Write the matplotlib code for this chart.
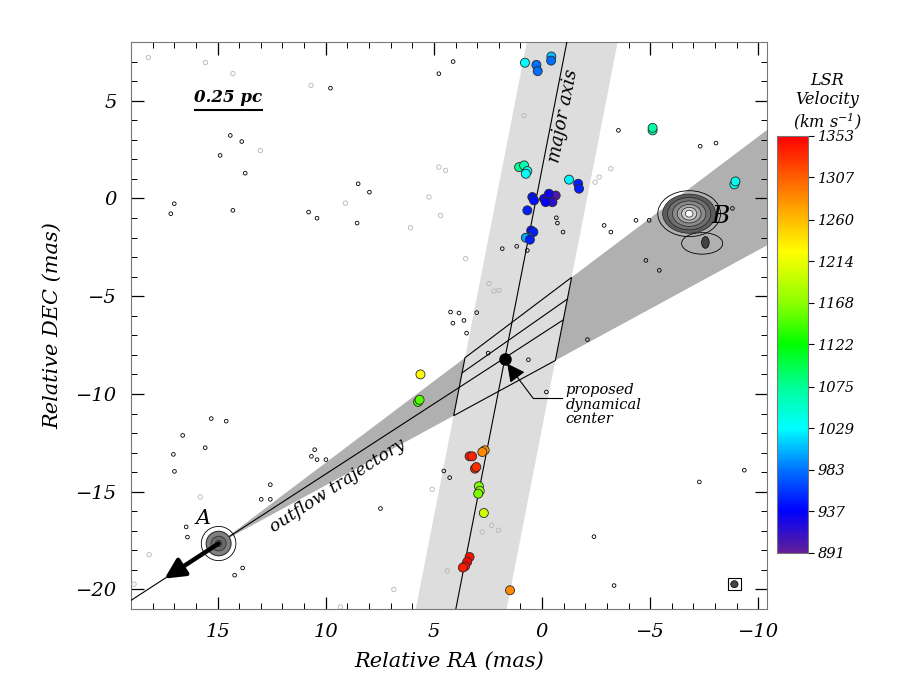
import matplotlib
matplotlib.use("Agg")
import matplotlib.pyplot as plt
import numpy as np
from matplotlib.cm import ScalarMappable
from matplotlib.colors import LinearSegmentedColormap, Normalize
from matplotlib.patches import Ellipse, Polygon, Rectangle
from matplotlib.ticker import MultipleLocator

plt.rcParams["font.family"] = "DejaVu Serif"
plt.rcParams["font.style"] = "italic"
plt.rcParams["mathtext.fontset"] = "dejavuserif"

# --- water maser spots: RA / DEC offsets (mas) and LSR velocity (km/s)
maser_ra = [0.79, 0.26, 0.20, -0.43, -0.42,
            1.06, 0.83, 0.68, 0.75, -1.25, -1.67, -1.71,
            -0.25, -0.09, -0.40, -0.63, -0.48, -0.17, -0.32, 0.45, 0.37, 0.68,
            0.50, 0.40, 0.60, 0.75, 0.56,
            -5.11, -5.11, -8.89, -8.94,
            5.62, 5.73, 5.66,
            2.65, 2.76, 3.35, 3.23, 3.10, 3.04, 2.92, 2.88, 2.95, 2.69,
            3.35, 3.46, 3.56, 3.66, 1.48]
maser_dec = [6.94, 6.83, 6.51, 7.26, 7.05,
             1.60, 1.69, 1.40, 1.26, 0.96, 0.75, 0.50,
             0.07, -0.02, -0.07, 0.15, -0.19, -0.19, 0.24, 0.07, -0.10, -0.61,
             -1.64, -1.72, -1.98, -2.01, -2.11,
             3.48, 3.61, 0.72, 0.87,
             -9.00, -10.41, -10.30,
             -12.88, -12.97, -13.19, -13.19, -13.82, -13.74, -14.72, -14.96, -15.10, -16.09,
             -18.34, -18.59, -18.81, -18.88, -20.04]
maser_vel = [1029, 983, 983, 1010, 983,
             1080, 1065, 1040, 1030, 1025, 950, 950,
             925, 930, 920, 900, 915, 935, 930, 945, 945, 950,
             945, 950, 965, 1000, 950,
             1060, 1070, 1035, 1040,
             1225, 1140, 1150,
             1280, 1285, 1340, 1335, 1335, 1330, 1165, 1180, 1160, 1200,
             1345, 1350, 1345, 1340, 1285]

vel_ticks = [891, 937, 983, 1029, 1075, 1122, 1168, 1214, 1260, 1307, 1353]

# weak continuum / noise contours
noise_ra = [14.41, 13.88, 14.88, 13.72, 17.00, 17.16, 14.29, 10.79, 10.40, 8.50,
            7.98, 8.55, 9.78, 4.77, 4.11, -3.53, -7.31, -8.04, -0.66, -0.71,
            -0.97, -2.87, -3.18, -4.34, -4.95, -8.80, 1.84, 1.17, 0.68, -4.80,
            -5.42, 15.29, 14.60, 16.61, 15.57, 17.04, 16.99, 12.56, 12.98, 12.56,
            10.51, 10.66, 10.40, 9.99, 4.54, 4.27, 7.47, 16.45, 16.39, 13.84,
            14.21, 4.23, 3.84, 3.61, 4.12, 3.02, 3.49, 2.49, 0.63, -0.20,
            -2.10, -2.40, -3.33, -7.27, -9.35]
noise_dec = [3.22, 2.91, 2.20, 1.29, -0.27, -0.78, -0.61, -0.70, -1.01, 0.75,
             0.32, -1.26, 5.64, 6.38, 7.00, 3.48, 2.67, 2.83, -0.99, -1.26,
             -1.72, -1.38, -1.72, -1.12, -1.12, -0.51, -2.57, -2.45, -2.66, -3.17,
             -3.68, -11.26, -11.39, -12.12, -12.75, -13.09, -13.96, -14.64, -15.39, -15.39,
             -12.85, -13.19, -13.36, -13.36, -13.94, -14.28, -15.86, -16.80, -17.32, -18.90,
             -19.27, -5.81, -5.86, -6.24, -6.38, -5.84, -6.89, -7.91, -8.25, -9.90,
             -7.22, -17.30, -19.80, -14.50, -13.90]
faint_ra = [18.2, 15.56, 14.29, 10.68, 13.02, 9.09, 4.77, 4.46, 5.23, 4.69,
            6.08, 0.83, -2.64, -2.45, -3.18, 3.53, 2.45, 1.99, 2.22, 2.33,
            2.02, 2.76, 18.16, 18.86, 9.32, 5.08, 6.85, 4.38, 15.8]
faint_dec = [7.2, 6.95, 6.38, 5.78, 2.45, -0.24, 1.6, 1.43, 0.07, -0.87,
             -1.5, 4.24, 1.09, 0.83, 1.52, -3.08, -4.36, -4.70, -4.74, -16.72,
             -16.97, -17.06, -18.22, -19.73, -20.9, -14.88, -20.0, -19.05, -15.27]

# geometry of the sketch (mas)
src_a = (14.95, -17.65)
src_b = (-6.80, -0.78)
dyn_center = (1.72, -8.20)
axis_dxdy = -0.177            # major axis: dRA / dDEC
band_offsets = (1.85, -2.35)  # band edges relative to major axis (RA)
wedge_right_dec = (3.5, -2.4)  # wedge edges where they leave the plot
ra_lim = (19.0, -10.4)
dec_lim = (-21.0, 8.0)

cmap = LinearSegmentedColormap.from_list("lsr", [
    (0.0, (0.38, 0.12, 0.60)), (0.0996, (0.0, 0.0, 1.0)), (0.1991, (0.0, 0.45, 1.0)),
    (0.2987, (0.0, 1.0, 1.0)), (0.3983, (0.0, 1.0, 0.6)), (0.5, (0.0, 1.0, 0.0)),
    (0.5996, (0.55, 1.0, 0.0)), (0.7229, (1.0, 1.0, 0.0)), (0.8052, (1.0, 0.72, 0.0)),
    (0.9069, (1.0, 0.35, 0.0)), (1.0, (1.0, 0.0, 0.0))])
norm = Normalize(vel_ticks[0], vel_ticks[-1])

fig = plt.figure(figsize=(9.04, 6.92), dpi=100)
ax = fig.add_axes([0.1449, 0.1199, 0.7036, 0.8194])


def axis_ra(dec, off=0.0):
    return dyn_center[0] + axis_dxdy * (dec - dyn_center[1]) + off


def ray_slope(ra_end, dec_end):
    return (dec_end - src_a[1]) / (ra_end - src_a[0])


def ray_cross_band(m, off):
    k = axis_dxdy
    return (dyn_center[0] + k * (src_a[1] - m * src_a[0] - dyn_center[1]) + off) / (1 - k * m)


m_up = ray_slope(ra_lim[1], wedge_right_dec[0])
m_low = ray_slope(ra_lim[1], wedge_right_dec[1])
m_mid = ray_slope(ra_lim[1], np.mean(wedge_right_dec))
m_ab = ray_slope(*src_b)

# outflow wedge
far = -12.0
ax.add_patch(Polygon([src_a, (far, src_a[1] + m_up * (far - src_a[0])),
                      (far, src_a[1] + m_low * (far - src_a[0]))],
                     closed=True, fc="#b0b0b0", ec="none", zorder=1))
# band around major axis
d0, d1 = -23, 10
ax.add_patch(Polygon([(axis_ra(d0, band_offsets[0]), d0), (axis_ra(d1, band_offsets[0]), d1),
                      (axis_ra(d1, band_offsets[1]), d1), (axis_ra(d0, band_offsets[1]), d0)],
                     closed=True, fc="#dddddd", ec="none", zorder=2))

# error box = band x wedge, with rays inside
corners = []
for m, off in [(m_up, band_offsets[0]), (m_up, band_offsets[1]),
               (m_low, band_offsets[1]), (m_low, band_offsets[0])]:
    x = ray_cross_band(m, off)
    corners.append((x, src_a[1] + m * (x - src_a[0])))
ax.add_patch(Polygon(corners, closed=True, fc="none", ec="k", lw=0.8, zorder=3))
for m in [m_ab]:
    xs = np.array([ray_cross_band(m, band_offsets[0]), ray_cross_band(m, band_offsets[1])])
    ax.plot(xs, src_a[1] + m * (xs - src_a[0]), color="k", lw=0.8, zorder=3)
xs = np.array([20.0, ray_cross_band(m_mid, band_offsets[1])])
ax.plot(xs, src_a[1] + m_mid * (xs - src_a[0]), color="k", lw=0.8, zorder=3)

# major axis
ax.plot([axis_ra(d0), axis_ra(d1)], [d0, d1], color="k", lw=0.8, zorder=3)

# noise contours
ax.scatter(faint_ra, faint_dec, s=10, facecolors="none", edgecolors="#b5b5b5", lw=0.6, zorder=3)
ax.scatter(noise_ra, noise_dec, s=7, facecolors="none", edgecolors="k", lw=0.6, zorder=3)

# continuum source A
ax.add_patch(Ellipse(src_a, 1.6, 1.75, fc="none", ec="k", lw=0.6, zorder=4))
ax.add_patch(Ellipse(src_a, 1.15, 1.25, fc="#808080", ec="#333333", lw=0.8, zorder=4))
ax.add_patch(Ellipse(src_a, 0.7, 0.75, fc="#6a6a6a", ec="#333333", lw=0.6, zorder=4))
ax.add_patch(Ellipse(src_a, 0.3, 0.32, fc="#777777", ec="#222222", lw=0.5, zorder=4))

# continuum source B
ax.add_patch(Ellipse((-7.4, -2.3), 1.9, 1.1, fc="none", ec="k", lw=0.6, zorder=4))
ax.add_patch(Ellipse((-7.55, -2.25), 0.35, 0.6, fc="#444444", ec="k", lw=0.5, zorder=4))
ax.add_patch(Ellipse(src_b, 2.9, 2.35, fc="none", ec="k", lw=0.6, zorder=4))
for w, h, c in [(2.45, 2.0, "#5c5c5c"), (2.0, 1.65, "#707070"), (1.55, 1.3, "#8a8a8a"),
                (1.1, 0.95, "#a8a8a8"), (0.7, 0.65, "#cfcfcf"), (0.35, 0.35, "#ffffff")]:
    ax.add_patch(Ellipse(src_b, w, h, fc=c, ec="#222222", lw=0.5, zorder=4))

# maser spots
ax.scatter(maser_ra, maser_dec, c=maser_vel, cmap=cmap, norm=norm, s=42,
           edgecolors="#2a2a2a", linewidths=0.6, zorder=5)

# outflow arrow from A
tip_ra = 17.45
ax.annotate("", xy=(tip_ra, src_a[1] + m_mid * (tip_ra - src_a[0])), xytext=src_a,
            arrowprops=dict(arrowstyle="-|>,head_length=0.6,head_width=0.3", lw=3.2,
                            color="k", mutation_scale=20, shrinkA=0, shrinkB=0), zorder=6)

# proposed dynamical center
ax.plot(*dyn_center, "o", color="k", ms=8, zorder=6)
ax.annotate("", xy=(1.61, -8.45), xytext=(0.42, -10.21),
            arrowprops=dict(arrowstyle="-|>,head_length=0.55,head_width=0.28", lw=0.8,
                            color="k", mutation_scale=20, shrinkA=0, shrinkB=0), zorder=6)
ax.plot([0.42, -0.93], [-10.21, -10.21], color="k", lw=0.8, zorder=6)
ax.text(-1.1, -10.55, "proposed\ndynamical\ncenter", ha="left", va="center",
        fontsize=10.5, linespacing=1.05, zorder=6)

# labels in the panel
ax.text(-0.97, 4.2, "major axis", rotation=79, ha="center", va="center", fontsize=13, zorder=6)
ax.text(9.44, -14.72, "outflow trajectory", rotation=33, ha="center", va="center",
        fontsize=12.5, zorder=6)
ax.text(15.65, -16.36, "A", ha="center", va="center", fontsize=15, zorder=6)
ax.text(-8.25, -0.92, "B", ha="center", va="center", fontsize=18, zorder=6)
ax.plot([16.02, 12.96], [4.5, 4.5], color="k", lw=1.5, zorder=6)
ax.text(14.49, 4.72, "0.25 pc", ha="center", va="bottom", fontsize=12, fontweight="bold", zorder=6)

# beam
ax.add_patch(Rectangle((-8.89 - 0.3, -19.73 - 0.32), 0.6, 0.64, fc="none", ec="k", lw=0.8, zorder=6))
ax.add_patch(Ellipse((-8.89, -19.73), 0.34, 0.36, fc="#444444", ec="k", lw=0.5, zorder=6))

ax.set_xlim(*ra_lim)
ax.set_ylim(*dec_lim)
ax.xaxis.set_major_locator(MultipleLocator(5))
ax.xaxis.set_minor_locator(MultipleLocator(1))
ax.yaxis.set_major_locator(MultipleLocator(5))
ax.yaxis.set_minor_locator(MultipleLocator(1))
ax.tick_params(which="both", direction="in", top=True, right=True, colors="k", labelsize=14)
ax.tick_params(which="major", length=9, width=0.9, pad=10)
ax.tick_params(which="minor", length=4.5, width=0.7)
for s in ax.spines.values():
    s.set_color("#777777")
ax.set_xlabel("Relative RA (mas)", fontsize=15, labelpad=8)
ax.set_ylabel("Relative DEC (mas)", fontsize=15, labelpad=10)

# colorbar
cax = fig.add_axes([0.8595, 0.2009, 0.0343, 0.6026])
cb = fig.colorbar(ScalarMappable(norm=norm, cmap=cmap), cax=cax, ticks=vel_ticks)
cb.outline.set_edgecolor("#777777")
cax.tick_params(direction="out", length=4, width=0.8, labelsize=10.5, pad=3)
fig.text(0.915, 0.853, "LSR\nVelocity\n(km s$^{-1}$)", ha="center", va="center",
         fontsize=11.5, linespacing=1.15)

fig.savefig("out.png", dpi=100)
